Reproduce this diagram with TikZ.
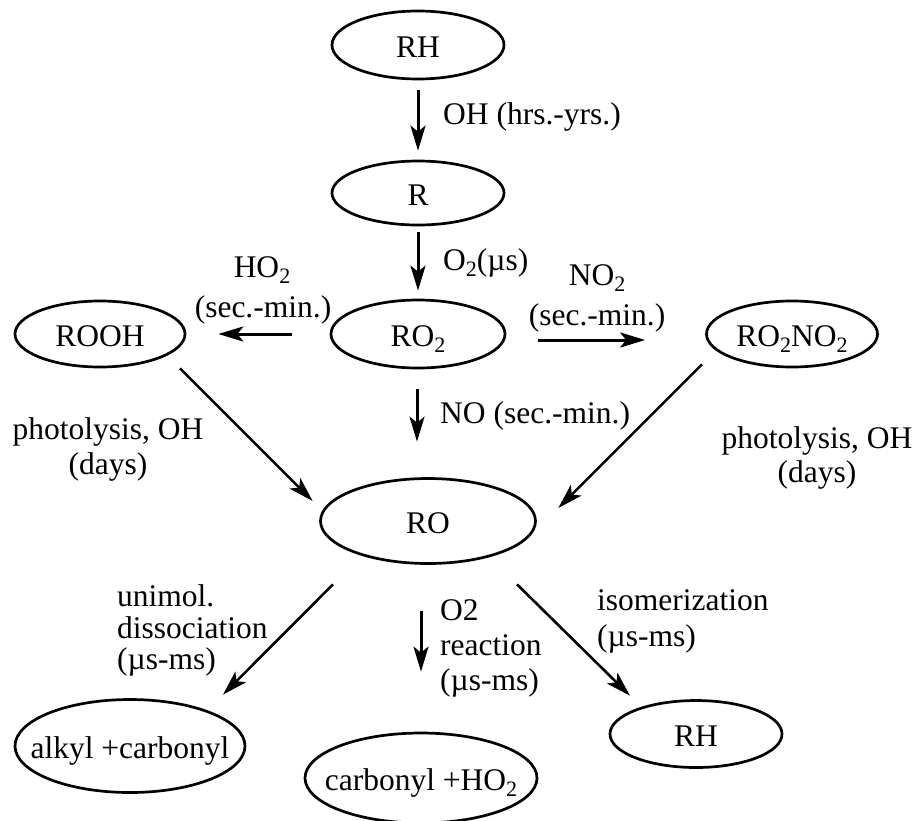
\documentclass[tikz,border=0pt]{standalone}
\usepackage{fontspec}
\setmainfont{Liberation Serif}
\usetikzlibrary{arrows.meta,shapes.geometric}
\newcommand{\sbs}[1]{\raisebox{-6pt}{\fontsize{22}{22}\selectfont #1}}
\begin{document}
\begin{tikzpicture}[x=1pt,y=-1pt,
  every node/.style={font=\fontsize{31.5}{35}\selectfont, inner sep=0pt},
  spec/.style={draw, ellipse, line width=2.7pt, inner sep=0pt},
  lab/.style={text height=24pt, text depth=0pt},
  arr/.style={line width=3pt, -{Stealth[length=25pt,width=15pt,inset=6pt]}},
  darr/.style={line width=2.6pt, -{Stealth[length=25pt,width=15pt,inset=6pt]}},
  lw/.style={anchor=base west},
  lc/.style={anchor=base}]
\useasboundingbox (0,0) rectangle (917,820);
% species
\node[spec, minimum width=172pt, minimum height=68pt, label={[lab]center:RH}] (rh1) at (418,45) {};
\node[spec, minimum width=172pt, minimum height=64pt, label={[lab]center:R}] (r) at (418,193) {};
\node[spec, minimum width=174pt, minimum height=68pt, label={[lab]center:RO\sbs{2}}] (ro2) at (418,334) {};
\node[spec, minimum width=170pt, minimum height=66pt, label={[lab]center:ROOH}] (rooh) at (100,334) {};
\node[spec, minimum width=171pt, minimum height=66pt, label={[lab]center:RO\sbs{2}NO\sbs{2}}] (ro2no2) at (792,334) {};
\node[spec, minimum width=215pt, minimum height=85pt, label={[lab]center:RO}] (ro) at (428,521) {};
\node[spec, minimum width=230pt, minimum height=93pt, label={[lab]center:alkyl +carbonyl}] (alkyl) at (130,746) {};
\node[spec, minimum width=232pt, minimum height=90pt, label={[lab]center:carbonyl +HO\sbs{2}}] (carb) at (421,778) {};
\node[spec, minimum width=172pt, minimum height=67pt, label={[lab]center:RH}] (rh2) at (696,734) {};
% arrows
\draw[arr] ([yshift=-10pt]rh1.south) -- ([yshift=9pt]r.north);
\draw[arr] ([yshift=-6pt]r.south) -- ([yshift=8pt]ro2.north);
\draw[arr] ([xshift=-38pt]ro2.west) -- ([xshift=32pt]rooh.east);
\draw[arr] ([shift={(32pt,-6pt)}]ro2.east) -- ([shift={(-60pt,-6pt)}]ro2no2.west);
\draw[arr] ([shift={(-1pt,-20pt)}]ro2.south) -- ([shift={(-11pt,35.5pt)}]ro.north);
\draw[darr] ([xshift=80pt]rooh.south) -- ([shift={(-6.5pt,20pt)}]ro.west);
\draw[darr] ([shift={(-90pt,4pt)}]ro2no2.south) -- ([shift={(21.5pt,13pt)}]ro.east);
\draw[darr] ([shift={(-95pt,-19.5pt)}]ro.south) -- ([shift={(93pt,3.5pt)}]alkyl.north);
\draw[arr] ([shift={(-7pt,-46.5pt)}]ro.south) -- ([yshift=60pt]carb.north);
\draw[darr] ([shift={(89pt,-19.5pt)}]ro.south) -- ([shift={(-66pt,3.5pt)}]rh2.north);
% labels
\node[lw] (t1) at (443,124) {OH (hrs.-yrs.)};
\node[lw] (t2) at (443,270) {O\sbs{2}(µs)};
\node[lc] (t3) at (262,277) {HO\sbs{2}};
\node[lc] (t4) at (263,317) {(sec.-min.)};
\node[lc] (t5) at (597,285) {NO\sbs{2}};
\node[lc] (t6) at (597,325) {(sec.-min.)};
\node[lw] (t7) at (440,423) {NO (sec.-min.)};
\node[lc] (t8) at (108,439) {photolysis, OH};
\node[lc] (t9) at (108,474) {(days)};
\node[lc] (t10) at (817,448) {photolysis, OH};
\node[lc] (t11) at (817,482) {(days)};
\node[lw] (t12) at (117,606) {unimol.};
\node[lw] (t13) at (117,638) {dissociation};
\node[lw] (t14) at (117,669) {(µs-ms)};
\node[lw] (t15) at (440,620) {O2};
\node[lw] (t16) at (440,655) {reaction};
\node[lw] (t17) at (440,690) {(µs-ms)};
\node[lw] (t18) at (597,610) {isomerization};
\node[lw] (t19) at (597,646) {(µs-ms)};
\end{tikzpicture}
\end{document}
